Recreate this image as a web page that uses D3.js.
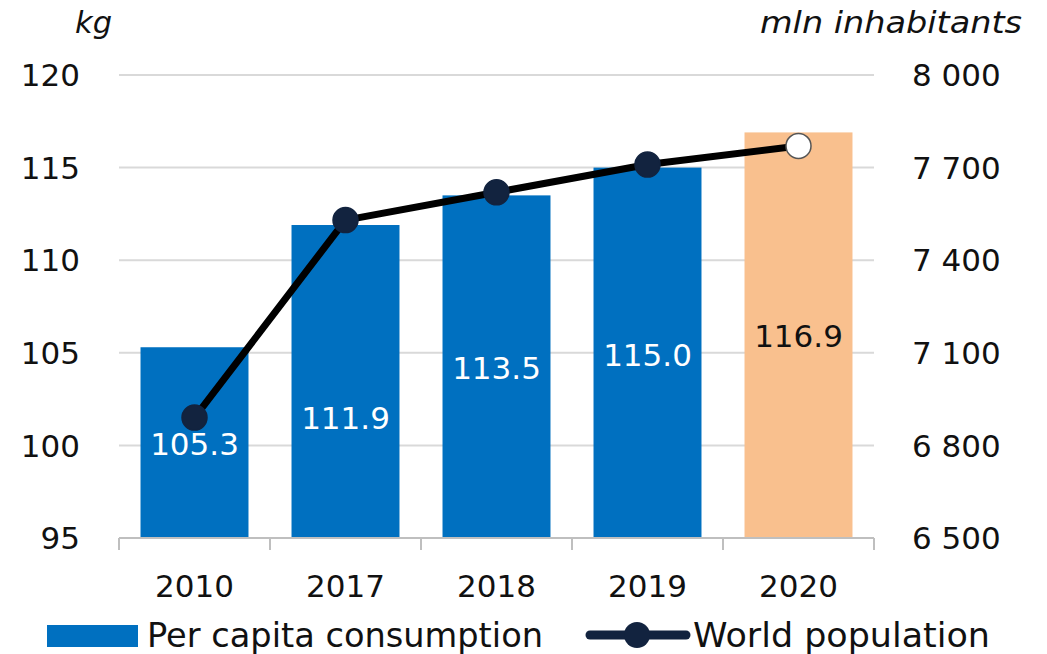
<!DOCTYPE html>
<html>
<head>
<meta charset="utf-8">
<script src="https://cdn.jsdelivr.net/npm/d3@7"></script>
<style>
  body { margin: 0; background: #fff; }
  text { font-family: "DejaVu Sans", Verdana, sans-serif; }
</style>
</head>
<body>
<div id="chart"></div>
<script>
// data
var years = ["2010", "2017", "2018", "2019", "2020"];
var consumption = [105.3, 111.9, 113.5, 115.0, 116.9];
var population = [6890, 7530, 7620, 7710, 7770];
var kgTicks = [95, 100, 105, 110, 115, 120];
var popTicks = [6500, 6800, 7100, 7400, 7700, 8000];
// where each bar label sits, in kg units
var labelAt = [100.1, 101.5, 104.2, 104.9, 105.9];

var width = 1047, height = 654;
var margin = { top: 75, right: 173, bottom: 116, left: 119 };

var svg = d3.select("#chart").append("svg")
    .attr("width", width)
    .attr("height", height);

var x = d3.scaleBand()
    .domain(years)
    .range([margin.left, width - margin.right])
    .paddingInner(0.285)
    .paddingOuter(0.1425);

var y = d3.scaleLinear()
    .domain([95, 120])
    .range([height - margin.bottom, margin.top]);

var y2 = d3.scaleLinear()
    .domain([6500, 8000])
    .range([height - margin.bottom, margin.top]);

// grid
svg.append("g")
    .selectAll("line")
    .data(kgTicks.slice(1))
    .enter().append("line")
    .attr("x1", margin.left)
    .attr("x2", width - margin.right)
    .attr("y1", function(d) { return y(d); })
    .attr("y2", function(d) { return y(d); })
    .attr("stroke", "#d9d9d9")
    .attr("stroke-width", 2);

// bars
svg.append("g")
    .selectAll("rect")
    .data(consumption)
    .enter().append("rect")
    .attr("x", function(d, i) { return x(years[i]); })
    .attr("y", function(d) { return y(d); })
    .attr("width", x.bandwidth())
    .attr("height", function(d) { return y(95) - y(d); })
    .attr("fill", function(d, i) { return i === years.length - 1 ? "#f9c08e" : "#0070c0"; });

// bottom axis
var xAxis = svg.append("g")
    .attr("transform", "translate(0," + y(95) + ")");
xAxis.append("line")
    .attr("x1", margin.left)
    .attr("x2", width - margin.right)
    .attr("stroke", "#bfbfbf")
    .attr("stroke-width", 2);
var bounds = years.map(function(d) { return x(d) - x.step() * x.paddingInner() / 2; });
bounds.push(width - margin.right);
bounds[0] = margin.left;
xAxis.selectAll(".tk")
    .data(bounds)
    .enter().append("line")
    .attr("x1", function(d) { return d; })
    .attr("x2", function(d) { return d; })
    .attr("y1", 0)
    .attr("y2", 12)
    .attr("stroke", "#bfbfbf")
    .attr("stroke-width", 2);
xAxis.selectAll(".yr")
    .data(years)
    .enter().append("text")
    .attr("x", function(d) { return x(d) + x.bandwidth() / 2; })
    .attr("y", 59)
    .attr("text-anchor", "middle")
    .attr("font-size", 31)
    .attr("fill", "#111")
    .text(function(d) { return d; });

// left ticks
svg.append("g")
    .selectAll("text")
    .data(kgTicks)
    .enter().append("text")
    .attr("x", 80)
    .attr("y", function(d) { return y(d); })
    .attr("dy", "0.36em")
    .attr("text-anchor", "end")
    .attr("font-size", 31)
    .attr("fill", "#111")
    .text(function(d) { return d; });

// right ticks
var fmt = function(d) { return d3.format(",")(d).replace(",", " "); };
svg.append("g")
    .selectAll("text")
    .data(popTicks)
    .enter().append("text")
    .attr("x", 912)
    .attr("y", function(d) { return y2(d); })
    .attr("dy", "0.36em")
    .attr("font-size", 31)
    .attr("fill", "#111")
    .text(fmt);

// axis titles
svg.append("text")
    .attr("x", 75)
    .attr("y", 33)
    .attr("font-size", 30)
    .attr("font-style", "italic")
    .attr("fill", "#111")
    .attr("textLength", 37)
    .attr("lengthAdjust", "spacingAndGlyphs")
    .text("kg");
svg.append("text")
    .attr("x", 760)
    .attr("y", 33)
    .attr("font-size", 30)
    .attr("font-style", "italic")
    .attr("fill", "#111")
    .attr("textLength", 262)
    .attr("lengthAdjust", "spacingAndGlyphs")
    .text("mln inhabitants");

// line
var line = d3.line()
    .x(function(d, i) { return x(years[i]) + x.bandwidth() / 2; })
    .y(function(d) { return y2(d); });

svg.append("path")
    .datum(population)
    .attr("d", line)
    .attr("fill", "none")
    .attr("stroke", "#000")
    .attr("stroke-width", 7)
    .attr("stroke-linejoin", "round");

svg.append("g")
    .selectAll("circle")
    .data(population)
    .enter().append("circle")
    .attr("cx", function(d, i) { return x(years[i]) + x.bandwidth() / 2; })
    .attr("cy", function(d) { return y2(d); })
    .attr("r", 12.5)
    .attr("fill", function(d, i) { return i === years.length - 1 ? "#fff" : "#12233f"; })
    .attr("stroke", function(d, i) { return i === years.length - 1 ? "#555" : "#12233f"; })
    .attr("stroke-width", 1.5);

// bar labels
svg.append("g")
    .selectAll("text")
    .data(consumption)
    .enter().append("text")
    .attr("x", function(d, i) { return x(years[i]) + x.bandwidth() / 2; })
    .attr("y", function(d, i) { return y(labelAt[i]); })
    .attr("dy", "0.36em")
    .attr("text-anchor", "middle")
    .attr("font-size", 31)
    .attr("fill", function(d, i) { return i === years.length - 1 ? "#111" : "#fff"; })
    .text(function(d) { return d.toFixed(1); });

// legend
var legend = svg.append("g");
legend.append("rect")
    .attr("x", 47)
    .attr("y", 625)
    .attr("width", 91)
    .attr("height", 22)
    .attr("fill", "#0070c0");
legend.append("text")
    .attr("x", 147)
    .attr("y", 647)
    .attr("font-size", 33)
    .attr("fill", "#111")
    .attr("textLength", 396)
    .attr("lengthAdjust", "spacingAndGlyphs")
    .text("Per capita consumption");
legend.append("line")
    .attr("x1", 590)
    .attr("x2", 686)
    .attr("y1", 635)
    .attr("y2", 635)
    .attr("stroke", "#12233f")
    .attr("stroke-width", 9)
    .attr("stroke-linecap", "round");
legend.append("circle")
    .attr("cx", 637)
    .attr("cy", 635)
    .attr("r", 13)
    .attr("fill", "#12233f");
legend.append("text")
    .attr("x", 693)
    .attr("y", 647)
    .attr("font-size", 33)
    .attr("fill", "#111")
    .attr("textLength", 297)
    .attr("lengthAdjust", "spacingAndGlyphs")
    .text("World population");
</script>
</body>
</html>
